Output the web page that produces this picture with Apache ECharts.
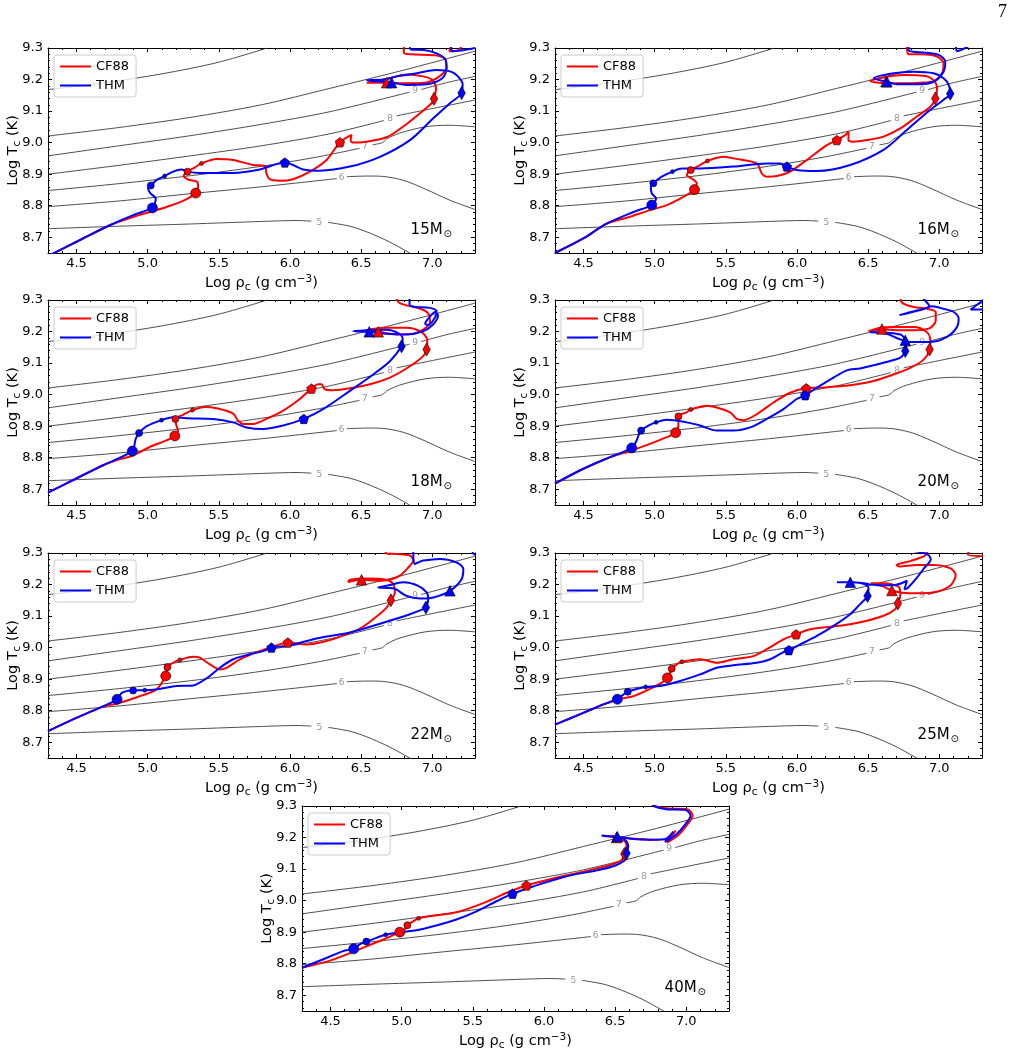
<!DOCTYPE html>
<html>
<head>
<meta charset="utf-8">
<script src="https://cdn.jsdelivr.net/npm/echarts@6/dist/echarts.min.js"></script>
<style>
  html, body { margin: 0; padding: 0; background: #fff; }
  #chart { width: 1015px; height: 1055px; }
</style>
</head>
<body>
<div id="chart"></div>
<script>
// log rho_c range and log T_c range, same on every panel
const xRange = [4.3, 7.3];
const yRange = [8.65, 9.3];

// grey background contours (identical on all panels), null = gap for the inline label
const contourA = [[4.3, 9.168], [4.7, 9.19], [5.1, 9.218], [5.5, 9.255], [5.84, 9.3]];
const contourB = [[4.3, 9.021], [4.8, 9.048], [5.3, 9.08], [5.8, 9.12], [6.28, 9.172], [6.8, 9.23], [7.3, 9.29]];
const contour9 = [[4.3, 8.958], [4.8, 8.99], [5.3, 9.022], [5.8, 9.058], [6.28, 9.098], [6.84, 9.16], null,
  [6.92, 9.168], [7.1, 9.19], [7.3, 9.21]];
const contour8 = [[4.3, 8.9], [4.8, 8.928], [5.3, 8.958], [5.8, 8.99], [6.28, 9.028], [6.66, 9.07], null,
  [6.75, 9.085], [7.0, 9.108], [7.3, 9.135]];
const contour7 = [[4.3, 8.848], [4.8, 8.87], [5.3, 8.895], [5.8, 8.925], [6.2, 8.955], [6.49, 8.982], null,
  [6.58, 8.993], [6.65, 9.0], [6.68, 9.012], [6.77, 9.03], [6.95, 9.05], [7.12, 9.055], [7.3, 9.05]];
const contour6 = [[4.3, 8.797], [4.8, 8.815], [5.3, 8.838], [5.8, 8.86], [6.33, 8.886], null,
  [6.4, 8.892], [6.55, 8.894], [6.65, 8.893], [6.8, 8.88], [6.95, 8.853], [7.12, 8.818], [7.3, 8.788]];
const contour5 = [[4.3, 8.727], [4.8, 8.735], [5.3, 8.742], [5.8, 8.75], [6.05, 8.753], [6.15, 8.751], null,
  [6.27, 8.747], [6.42, 8.735], [6.54, 8.717], [6.7, 8.685], [6.86, 8.645]];
const contourLevels = ['5', '6', '7', '8', '9'];
const contourLabelPos = [[6.206, 8.747], [6.363, 8.889], [6.527, 8.987], [6.703, 9.077], [6.879, 9.164]];

const masses = ['15', '16', '18', '20', '22', '25', '40'];

// tracks: CF88 (red) and THM (blue), points beyond the frame get clipped
const red15 = [[4.3, 8.64], [4.546, 8.696], [4.734, 8.738], [4.898, 8.764], [5.015, 8.78], [5.132, 8.796], [5.249, 8.815],
  [5.338, 8.84], [5.355, 8.86], [5.348, 8.876], [5.284, 8.883], [5.254, 8.895], [5.28, 8.908], [5.331, 8.921], [5.378, 8.934],
  [5.483, 8.948], [5.601, 8.945], [5.741, 8.929], [5.823, 8.926], [5.835, 8.902], [5.858, 8.884], [5.929, 8.879], [6.022, 8.884],
  [6.14, 8.908], [6.257, 8.945], [6.351, 9.001], [6.409, 9.019], [6.433, 9.024], [6.426, 9.008], [6.444, 9.0], [6.538, 9.003],
  [6.679, 9.017], [6.796, 9.051], [6.913, 9.093], [6.995, 9.125], [7.012, 9.139], [7.026, 9.172], [6.995, 9.2], [6.937, 9.21],
  [6.82, 9.216], [6.7, 9.204], [6.6, 9.195], [6.54, 9.19], [6.68, 9.19], [6.8, 9.188], [6.95, 9.19], [7.05, 9.21], [7.1, 9.24],
  [7.09, 9.265], [7.02, 9.277], [6.85, 9.28], [6.8, 9.285], [6.8, 9.31], [7.15, 9.33], [7.12, 9.29], [7.18, 9.292], [7.21, 9.31]];
const blue15 = [[4.3, 8.64], [4.546, 8.696], [4.734, 8.738], [4.898, 8.77], [5.034, 8.793], [5.05, 8.807], [5.057, 8.823],
  [5.02, 8.839], [5.003, 8.855], [5.022, 8.864], [5.062, 8.881], [5.12, 8.894], [5.179, 8.908], [5.237, 8.915], [5.284, 8.908],
  [5.366, 8.904], [5.6, 8.904], [5.788, 8.915], [5.964, 8.937], [6.022, 8.929], [6.093, 8.915], [6.21, 8.911], [6.421, 8.924],
  [6.632, 8.955], [6.843, 9.008], [7.007, 9.077], [7.124, 9.125], [7.206, 9.157], [7.213, 9.185], [7.18, 9.21], [7.13, 9.225],
  [7.03, 9.23], [6.89, 9.22], [6.75, 9.21], [6.66, 9.2], [6.54, 9.198], [6.714, 9.19], [6.82, 9.183], [6.96, 9.185], [7.07, 9.204],
  [7.1, 9.235], [7.09, 9.265], [7.03, 9.283], [6.94, 9.294], [6.85, 9.295], [6.84, 9.32], [7.12, 9.33], [7.14, 9.29], [7.2, 9.292], [7.3, 9.3]];

const red16 = [[4.3, 8.65], [4.499, 8.696], [4.663, 8.743], [4.804, 8.762], [4.968, 8.786], [5.085, 8.802], [5.202, 8.828],
  [5.28, 8.851], [5.296, 8.871], [5.261, 8.886], [5.226, 8.897], [5.254, 8.913], [5.319, 8.929], [5.371, 8.942], [5.483, 8.955],
  [5.554, 8.95], [5.718, 8.934], [5.753, 8.902], [5.788, 8.892], [5.858, 8.894], [5.952, 8.908], [6.069, 8.945], [6.21, 8.992],
  [6.28, 9.008], [6.339, 9.024], [6.362, 9.035], [6.362, 9.008], [6.397, 9.003], [6.491, 9.008], [6.608, 9.019], [6.726, 9.045],
  [6.843, 9.083], [6.937, 9.114], [6.972, 9.139], [6.984, 9.172], [6.96, 9.198], [6.89, 9.212], [6.75, 9.214], [6.632, 9.209],
  [6.515, 9.195], [6.632, 9.188], [6.75, 9.188], [6.867, 9.19], [6.96, 9.195], [7.019, 9.22], [7.03, 9.251], [6.984, 9.273],
  [6.867, 9.28], [6.785, 9.28], [6.773, 9.294], [6.77, 9.31]];
const blue16 = [[4.3, 8.65], [4.499, 8.696], [4.663, 8.743], [4.851, 8.78], [4.98, 8.802], [5.01, 8.823], [4.98, 8.839],
  [4.973, 8.86], [4.991, 8.871], [5.05, 8.892], [5.125, 8.908], [5.191, 8.918], [5.319, 8.918], [5.554, 8.924], [5.788, 8.934],
  [5.882, 8.934], [5.929, 8.924], [5.999, 8.913], [6.14, 8.91], [6.374, 8.929], [6.608, 8.977], [6.772, 9.04], [6.937, 9.104],
  [7.03, 9.136], [7.077, 9.155], [7.066, 9.183], [7.03, 9.204], [6.96, 9.22], [6.82, 9.225], [6.68, 9.22], [6.539, 9.204],
  [6.632, 9.193], [6.703, 9.185], [6.843, 9.185], [6.96, 9.193], [7.03, 9.225], [7.042, 9.257], [6.995, 9.278], [6.89, 9.286],
  [6.82, 9.288], [6.785, 9.294], [6.785, 9.31], [7.1, 9.33], [7.124, 9.29], [7.17, 9.297], [7.22, 9.31]];

const red18 = [[4.3, 8.689], [4.499, 8.734], [4.687, 8.776], [4.78, 8.792], [4.898, 8.807], [5.015, 8.834], [5.132, 8.855],
  [5.191, 8.869], [5.214, 8.886], [5.202, 8.902], [5.195, 8.923], [5.249, 8.936], [5.315, 8.951], [5.401, 8.961], [5.483, 8.957],
  [5.601, 8.94], [5.636, 8.917], [5.671, 8.907], [5.741, 8.907], [5.835, 8.923], [5.952, 8.949], [6.069, 8.986], [6.151, 9.019],
  [6.198, 9.033], [6.222, 9.033], [6.245, 9.017], [6.304, 9.014], [6.421, 9.02], [6.562, 9.033], [6.702, 9.054], [6.843, 9.09],
  [6.936, 9.122], [6.96, 9.143], [6.965, 9.172], [6.925, 9.198], [6.82, 9.212], [6.679, 9.212], [6.539, 9.204], [6.62, 9.199],
  [6.75, 9.191], [6.867, 9.193], [6.937, 9.206], [6.984, 9.23], [6.972, 9.257], [6.913, 9.273], [6.82, 9.283], [6.761, 9.294], [6.75, 9.31]];
const blue18 = [[4.3, 8.689], [4.499, 8.734], [4.687, 8.776], [4.893, 8.821], [4.909, 8.844], [4.916, 8.86], [4.94, 8.878],
  [4.991, 8.899], [5.097, 8.919], [5.179, 8.928], [5.273, 8.925], [5.46, 8.923], [5.601, 8.912], [5.694, 8.896], [5.812, 8.891],
  [5.952, 8.902], [6.097, 8.923], [6.233, 8.954], [6.421, 9.012], [6.585, 9.064], [6.702, 9.106], [6.784, 9.153], [6.792, 9.177],
  [6.761, 9.195], [6.679, 9.206], [6.539, 9.204], [6.445, 9.201], [6.557, 9.199], [6.679, 9.193], [6.82, 9.191], [6.93, 9.2],
  [7.0, 9.22], [7.04, 9.25], [7.02, 9.262], [6.97, 9.24], [6.95, 9.225], [6.97, 9.22], [7.02, 9.245], [7.03, 9.265], [6.98, 9.275],
  [6.88, 9.278], [6.84, 9.285], [6.84, 9.31]];

const red20 = [[4.3, 8.718], [4.499, 8.765], [4.687, 8.802], [4.804, 8.818], [4.968, 8.844], [5.085, 8.865], [5.148, 8.879],
  [5.167, 8.902], [5.167, 8.931], [5.226, 8.944], [5.254, 8.953], [5.366, 8.965], [5.437, 8.959], [5.53, 8.944], [5.577, 8.923],
  [5.624, 8.919], [5.718, 8.938], [5.835, 8.975], [5.952, 9.006], [6.065, 9.02], [6.163, 9.022], [6.374, 9.03], [6.538, 9.043],
  [6.679, 9.064], [6.796, 9.085], [6.89, 9.111], [6.932, 9.143], [6.937, 9.172], [6.913, 9.198], [6.82, 9.214], [6.679, 9.214],
  [6.585, 9.212], [6.503, 9.201], [6.592, 9.207], [6.703, 9.204], [6.82, 9.204], [6.93, 9.21], [6.975, 9.235], [6.975, 9.262],
  [6.913, 9.272], [6.82, 9.278], [6.75, 9.288], [6.73, 9.299], [6.73, 9.31]];
const blue20 = [[4.3, 8.718], [4.499, 8.765], [4.687, 8.802], [4.839, 8.831], [4.874, 8.855], [4.886, 8.87], [4.905, 8.886],
  [4.956, 8.902], [5.01, 8.912], [5.085, 8.92], [5.226, 8.912], [5.319, 8.902], [5.437, 8.886], [5.554, 8.886], [5.671, 8.896],
  [5.788, 8.923], [5.905, 8.954], [5.999, 8.986], [6.058, 8.998], [6.14, 9.022], [6.257, 9.054], [6.351, 9.077], [6.444, 9.083],
  [6.608, 9.101], [6.726, 9.117], [6.761, 9.138], [6.768, 9.158], [6.761, 9.172], [6.738, 9.188], [6.667, 9.195], [6.585, 9.198],
  [6.515, 9.198], [6.632, 9.193], [6.714, 9.177], [6.796, 9.167], [6.937, 9.167], [7.054, 9.183], [7.124, 9.214], [7.136, 9.241],
  [7.101, 9.262], [7.03, 9.272], [6.948, 9.28], [6.88, 9.27], [6.72, 9.252], [6.8, 9.262], [6.93, 9.282], [6.9, 9.298], [6.88, 9.31],
  [7.35, 9.33], [7.35, 9.27], [7.22, 9.27], [7.31, 9.3]];

const red22 = [[4.3, 8.735], [4.499, 8.777], [4.663, 8.809], [4.804, 8.825], [4.944, 8.846], [5.062, 8.867], [5.127, 8.91],
  [5.132, 8.92], [5.139, 8.938], [5.179, 8.952], [5.226, 8.961], [5.319, 8.971], [5.366, 8.968], [5.437, 8.947], [5.507, 8.931],
  [5.554, 8.936], [5.648, 8.963], [5.788, 8.989], [5.905, 9.007], [5.985, 9.016], [6.116, 9.01], [6.257, 9.021], [6.397, 9.042],
  [6.491, 9.06], [6.585, 9.09], [6.679, 9.127], [6.709, 9.15], [6.737, 9.175], [6.726, 9.201], [6.679, 9.215], [6.538, 9.219],
  [6.421, 9.215], [6.409, 9.208], [6.503, 9.215], [6.608, 9.212], [6.7, 9.215], [6.772, 9.228], [6.831, 9.254], [6.866, 9.276],
  [6.843, 9.292], [6.749, 9.297], [6.679, 9.298], [6.67, 9.31]];
const blue22 = [[4.3, 8.735], [4.499, 8.777], [4.663, 8.809], [4.785, 8.836], [4.815, 8.855], [4.851, 8.862], [4.898, 8.864],
  [4.98, 8.865], [5.085, 8.869], [5.202, 8.878], [5.319, 8.88], [5.366, 8.889], [5.437, 8.91], [5.507, 8.936], [5.601, 8.963],
  [5.718, 8.979], [5.812, 8.989], [5.87, 9.0], [5.999, 9.007], [6.187, 9.029], [6.421, 9.048], [6.655, 9.079], [6.843, 9.106],
  [6.936, 9.122], [6.955, 9.127], [6.972, 9.154], [6.96, 9.175], [6.901, 9.196], [6.796, 9.207], [6.679, 9.196], [6.62, 9.191],
  [6.726, 9.188], [6.819, 9.164], [6.913, 9.156], [7.007, 9.159], [7.124, 9.18], [7.206, 9.217], [7.218, 9.249], [7.171, 9.27],
  [7.054, 9.281], [6.937, 9.276], [6.9, 9.27], [6.878, 9.265], [6.868, 9.28], [6.866, 9.31], [7.35, 9.33], [7.35, 9.29],
  [7.29, 9.297], [7.28, 9.31]];

const red25 = [[4.3, 8.756], [4.499, 8.793], [4.64, 8.82], [4.738, 8.836], [4.851, 8.846], [4.968, 8.869], [5.05, 8.889],
  [5.09, 8.904], [5.109, 8.92], [5.12, 8.933], [5.155, 8.947], [5.191, 8.955], [5.319, 8.963], [5.437, 8.952], [5.554, 8.963],
  [5.694, 8.973], [5.788, 8.995], [5.905, 9.026], [5.994, 9.042], [6.093, 9.058], [6.257, 9.067], [6.374, 9.074], [6.491, 9.085],
  [6.608, 9.101], [6.69, 9.122], [6.709, 9.14], [6.726, 9.165], [6.72, 9.19], [6.67, 9.2], [6.6, 9.204], [6.52, 9.204], [6.6, 9.195],
  [6.667, 9.181], [6.73, 9.175], [6.84, 9.172], [6.98, 9.177], [7.08, 9.198], [7.115, 9.23], [7.08, 9.251], [6.96, 9.262],
  [6.84, 9.262], [6.72, 9.257], [6.7, 9.262], [6.8, 9.275], [6.9, 9.292], [6.93, 9.31], [7.35, 9.33], [7.35, 9.29], [7.2, 9.295], [7.21, 9.31]];
const blue25 = [[4.3, 8.756], [4.499, 8.793], [4.64, 8.82], [4.738, 8.836], [4.78, 8.851], [4.811, 8.86], [4.874, 8.869],
  [4.937, 8.875], [5.038, 8.878], [5.179, 8.894], [5.319, 8.915], [5.437, 8.936], [5.554, 8.944], [5.718, 8.952], [5.812, 8.963],
  [5.905, 8.986], [5.943, 8.992], [6.023, 9.01], [6.14, 9.037], [6.257, 9.069], [6.374, 9.106], [6.444, 9.138], [6.491, 9.159],
  [6.496, 9.164], [6.503, 9.188], [6.468, 9.202], [6.398, 9.207], [6.281, 9.207], [6.375, 9.207], [6.468, 9.204], [6.562, 9.198],
  [6.679, 9.198], [6.773, 9.212], [6.755, 9.185], [6.78, 9.19], [6.84, 9.22], [6.89, 9.25], [6.94, 9.28], [6.92, 9.295],
  [6.84, 9.305], [6.7, 9.31]];

const red40 = [[4.3, 8.787], [4.518, 8.813], [4.752, 8.855], [4.869, 8.876], [4.987, 8.9], [5.033, 8.913], [5.04, 8.922],
  [5.08, 8.934], [5.12, 8.944], [5.221, 8.952], [5.385, 8.963], [5.573, 8.992], [5.76, 9.029], [5.877, 9.048], [6.041, 9.068],
  [6.276, 9.092], [6.463, 9.113], [6.545, 9.129], [6.569, 9.152], [6.58, 9.177], [6.545, 9.195], [6.487, 9.203], [6.42, 9.205],
  [6.52, 9.2], [6.64, 9.196], [6.76, 9.193], [6.865, 9.195], [6.925, 9.222], [6.865, 9.184], [6.945, 9.208], [7.005, 9.24],
  [7.045, 9.27], [7.005, 9.29], [6.875, 9.292], [6.78, 9.3], [6.775, 9.31]];
const blue40 = [[4.3, 8.787], [4.471, 8.818], [4.588, 8.84], [4.663, 8.847], [4.705, 8.861], [4.752, 8.87], [4.823, 8.882],
  [4.888, 8.892], [4.987, 8.9], [5.104, 8.906], [5.244, 8.921], [5.385, 8.94], [5.526, 8.966], [5.666, 8.998], [5.779, 9.022],
  [5.924, 9.045], [6.158, 9.077], [6.393, 9.098], [6.51, 9.113], [6.58, 9.135], [6.58, 9.15], [6.592, 9.171], [6.569, 9.193],
  [6.51, 9.203], [6.405, 9.206], [6.515, 9.203], [6.627, 9.195], [6.744, 9.193], [6.85, 9.195], [6.909, 9.219], [6.85, 9.186],
  [6.93, 9.21], [6.99, 9.24], [7.03, 9.27], [6.99, 9.288], [6.86, 9.29], [6.77, 9.3], [6.76, 9.31]];

// stage markers, order: big circle, circle, dot, pentagon, diamond, triangle
const redMarks15 = [[5.338, 8.84], [5.28, 8.908], [5.378, 8.934], [6.351, 9.001], [7.012, 9.139], [6.679, 9.19]];
const blueMarks15 = [[5.034, 8.793], [5.022, 8.864], [5.12, 8.894], [5.964, 8.937], [7.206, 9.157], [6.714, 9.19]];
const redMarks16 = [[5.28, 8.851], [5.254, 8.913], [5.371, 8.942], [6.28, 9.008], [6.972, 9.14], [6.625, 9.193]];
const blueMarks16 = [[4.98, 8.802], [4.991, 8.871], [5.125, 8.908], [5.929, 8.924], [7.077, 9.155], [6.632, 9.193]];
const redMarks18 = [[5.191, 8.869], [5.195, 8.923], [5.315, 8.951], [6.151, 9.019], [6.96, 9.143], [6.62, 9.199]];
const blueMarks18 = [[4.893, 8.821], [4.94, 8.878], [5.097, 8.919], [6.097, 8.923], [6.784, 9.153], [6.557, 9.199]];
const redMarks20 = [[5.148, 8.879], [5.167, 8.931], [5.254, 8.953], [6.065, 9.02], [6.932, 9.143], [6.597, 9.208]];
const blueMarks20 = [[4.839, 8.831], [4.905, 8.886], [5.01, 8.912], [6.058, 8.998], [6.761, 9.138], [6.761, 9.172]];
const redMarks22 = [[5.127, 8.91], [5.139, 8.938], [5.226, 8.961], [5.985, 9.016], [6.709, 9.15], [6.503, 9.215]];
const blueMarks22 = [[4.785, 8.836], [4.898, 8.864], [4.98, 8.865], [5.87, 9.0], [6.955, 9.127], [7.124, 9.18]];
const redMarks25 = [[5.09, 8.904], [5.12, 8.933], [5.191, 8.955], [5.994, 9.042], [6.709, 9.14], [6.667, 9.181]];
const blueMarks25 = [[4.738, 8.836], [4.811, 8.86], [4.937, 8.875], [5.943, 8.992], [6.496, 9.164], [6.375, 9.207]];
const redMarks40 = [[4.987, 8.9], [5.04, 8.922], [5.12, 8.944], [5.877, 9.048], [6.565, 9.148], [6.51, 9.2]];
const blueMarks40 = [[4.663, 8.847], [4.752, 8.87], [4.888, 8.892], [5.779, 9.022], [6.58, 9.15], [6.515, 9.203]];

const redTracks = [red15, red16, red18, red20, red22, red25, red40];
const blueTracks = [blue15, blue16, blue18, blue20, blue22, blue25, blue40];
const redMarks = [redMarks15, redMarks16, redMarks18, redMarks20, redMarks22, redMarks25, redMarks40];
const blueMarks = [blueMarks15, blueMarks16, blueMarks18, blueMarks20, blueMarks22, blueMarks25, blueMarks40];
const contours = [contourA, contourB, contour9, contour8, contour7, contour6, contour5];

// layout
const W = 427, H = 205;
const panelBoxes = [[48, 48], [555, 48], [48, 300], [555, 300], [48, 553], [555, 553], [302, 806]];
const FONT = 'DejaVu Sans';
const RED = '#ff0000', BLUE = '#0000ff';

const pentagon = 'path://M0,-10L9.51,-3.09L5.88,8.09L-5.88,8.09L-9.51,-3.09Z';
const markShapes = ['circle', 'circle', 'circle', pentagon, 'diamond', 'triangle'];
const markSizes = [10, 7, 4, 9.5, [7.5, 13], 10.5];

function splitAtNull(pts) {
  const out = [[]];
  pts.forEach((p) => {
    if (p === null) out.push([]);
    else out[out.length - 1].push(p);
  });
  return out;
}

const rich = {
  n: { fontFamily: FONT, fontSize: 14.5, color: '#000' },
  s: { fontFamily: FONT, fontSize: 10.5, color: '#000', padding: [8, 0, 0, 0] },
  p: { fontFamily: FONT, fontSize: 10.5, color: '#000', padding: [0, 0, 8, 0] },
};

const onHalf = (v) => Math.abs(v * 2 - Math.round(v * 2)) < 1e-6;
const onTenth = (v) => Math.abs(v * 10 - Math.round(v * 10)) < 1e-6;

const black = { color: '#000', width: 1 };

function xAxes(i) {
  const base = {
    type: 'value', gridIndex: i, min: xRange[0], max: xRange[1], splitNumber: 6,
    axisLine: { onZero: false, lineStyle: black },
    axisTick: { inside: true, length: 4, lineStyle: black },
    minorTick: { show: true, splitNumber: 5, length: 2, lineStyle: black },
    splitLine: { show: false },
  };
  return [
    {
      ...base, position: 'bottom',
      name: '{n|Log ρ}{s|c}{n| (g cm}{p|−3}{n|)}',
      nameLocation: 'middle', nameGap: 21, nameMoveOverlap: false,
      nameTextStyle: { rich },
      axisLabel: { color: '#000', fontFamily: FONT, fontSize: 13, margin: 4,
        formatter: (v) => (onHalf(v) ? v.toFixed(1) : '') },
    },
    { ...base, position: 'top', axisLabel: { show: false } },
  ];
}

function yAxes(i) {
  const base = {
    type: 'value', gridIndex: i, min: yRange[0], max: yRange[1], splitNumber: 6,
    axisLine: { onZero: false, lineStyle: black },
    axisTick: { inside: true, length: 4, lineStyle: black },
    minorTick: { show: true, splitNumber: 5, length: 2, lineStyle: black },
    splitLine: { show: false },
  };
  return [
    {
      ...base, position: 'left',
      name: '{n|Log T}{s|c}{n| (K)}',
      nameLocation: 'middle', nameGap: 25, nameMoveOverlap: false,
      nameTextStyle: { rich },
      axisLabel: { color: '#000', fontFamily: FONT, fontSize: 13, margin: 5,
        formatter: (v) => (onTenth(v) ? v.toFixed(1) : '') },
    },
    { ...base, position: 'right', axisLabel: { show: false } },
  ];
}

const grid = [], xAxis = [], yAxis = [], series = [], legend = [], title = [];

panelBoxes.forEach(([l, t], i) => {
  grid.push({ left: l, top: t, width: W, height: H, containLabel: false });
  xAxis.push(...xAxes(i));
  yAxis.push(...yAxes(i));
  const ax = { xAxisIndex: 2 * i, yAxisIndex: 2 * i };

  contours.forEach((c) => {
    splitAtNull(c).forEach((seg) => {
      series.push({
        type: 'line', ...ax, data: seg, showSymbol: false, silent: true, smooth: 0.3, z: 1,
        lineStyle: { color: '#3a3a3a', width: 0.9 },
      });
    });
  });

  series.push({
    type: 'scatter', ...ax, silent: true, symbolSize: 0, z: 1,
    data: contourLabelPos.map((p, k) => ({ value: p, name: contourLevels[k] })),
    label: { show: true, position: 'inside', formatter: '{b}', color: '#7d7d7d', fontFamily: FONT, fontSize: 9 },
  });

  series.push({
    name: 'CF88', type: 'line', ...ax, data: redTracks[i], showSymbol: false, smooth: 0.3, z: 2,
    lineStyle: { color: RED, width: 2 }, itemStyle: { color: RED },
  });
  series.push({
    name: 'THM', type: 'line', ...ax, data: blueTracks[i], showSymbol: false, smooth: 0.3, z: 3,
    lineStyle: { color: BLUE, width: 2 }, itemStyle: { color: BLUE },
  });

  [[redMarks[i], RED, 4], [blueMarks[i], BLUE, 5]].forEach(([pts, col, z]) => {
    series.push({
      type: 'scatter', ...ax, silent: true, z,
      data: pts.map((p, k) => ({ value: p, symbol: markShapes[k], symbolSize: markSizes[k] })),
      itemStyle: { color: col, borderColor: '#000', borderWidth: 0.6, opacity: 1 },
    });
  });

  legend.push({
    data: ['CF88', 'THM'], orient: 'vertical', left: l + 6, top: t + 7,
    itemWidth: 31, itemHeight: 2, itemGap: 6, icon: 'rect', selectedMode: false,
    padding: [5, 7, 5, 6], borderColor: '#cccccc', borderWidth: 1, borderRadius: 3,
    backgroundColor: 'rgba(255,255,255,0.8)', z: 10,
    textStyle: { fontFamily: FONT, fontSize: 13, color: '#000' },
  });

  title.push({
    text: '{n|' + masses[i] + 'M}{s|⊙}',
    right: 1015 - (l + W - 23), top: t + H - 32, padding: 0,
    textStyle: { fontWeight: 'normal', rich: {
      n: { fontFamily: FONT, fontSize: 15, fontWeight: 'normal', color: '#000' },
      s: { fontFamily: FONT, fontSize: 10, fontWeight: 'normal', color: '#000', padding: [8, 0, 0, 1] },
    } },
  });
});

// page number
title.push({
  text: '7', right: 8, top: 3, padding: 0,
  textStyle: { fontFamily: 'Liberation Serif', fontSize: 18, fontWeight: 'normal', color: '#000' },
});

const chart = echarts.init(document.getElementById('chart'), null, { renderer: 'canvas' });
chart.setOption({
  animation: false,
  backgroundColor: '#fff',
  textStyle: { fontFamily: FONT },
  grid, xAxis, yAxis, series, legend, title,
});
</script>
</body>
</html>
